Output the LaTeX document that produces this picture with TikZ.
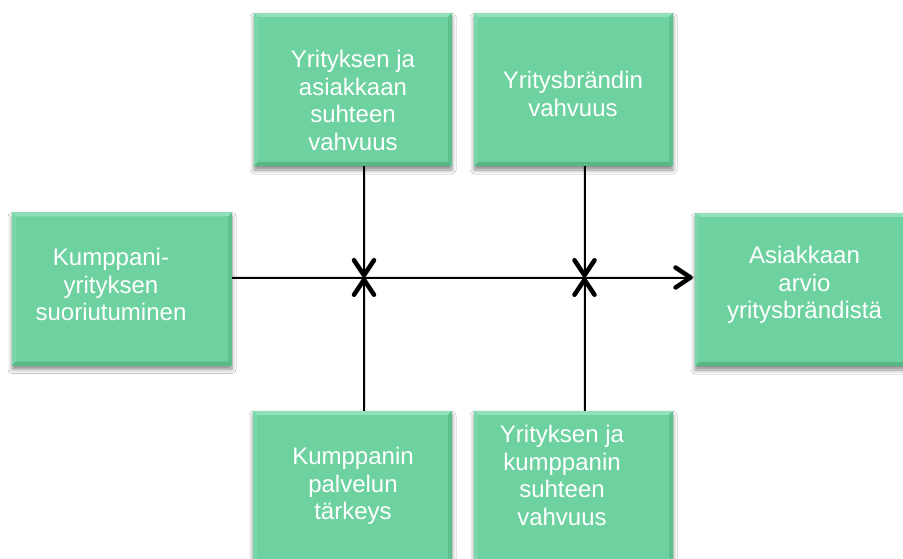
\documentclass[tikz,border=0pt]{standalone}
\usepackage{fontspec}
\setmainfont{Liberation Sans}
\usetikzlibrary{arrows.meta,shadows.blur,calc}

\definecolor{boxgreen}{HTML}{6DD2A0}
\definecolor{bevtop}{HTML}{92E0B9}
\definecolor{bevleft}{HTML}{7BD7A9}
\definecolor{bevright}{HTML}{5EC08F}
\definecolor{bevbottom}{HTML}{58B787}

\tikzset{
  greenbox/.style={rectangle, draw=none, fill=boxgreen, inner sep=0pt,
    minimum width=#1, minimum height=153pt,
    blur shadow={shadow xshift=0pt, shadow yshift=-4pt,
                 shadow blur radius=4pt, shadow opacity=45}},
  boxtext/.style={inner sep=0pt, anchor=north, align=center, text=white,
    font=\fontsize{24}{27.7}\selectfont},
  conn/.style={draw=black, line width=2pt},
  connshadow/.style={draw=black, line width=3pt, opacity=0.12, yshift=-2pt},
  barb/.tip={Straight Barb[length=15pt, width=20pt, line width=4.5pt 0, round]},
}

\begin{document}
\begin{tikzpicture}[x=1pt, y=-1pt]
  \path[use as bounding box, clip] (0,0) rectangle (903,559);
  \fill[white] (0,0) rectangle (903,559);

  % boxes
  \node[greenbox=198pt] (t1) at (353,89.5) {};
  \node[greenbox=199pt] (t2) at (573.5,89.5) {};
  \node[greenbox=220pt] (l)  at (122,289) {};
  \node[greenbox=220pt] (r)  at (805,289.5) {};
  \node[greenbox=199pt] (b1) at (352.5,487.5) {};
  \node[greenbox=199pt] (b2) at (573.5,487.5) {};

  % bevelled edges
  \foreach \n in {t1,t2,l,r,b1,b2} {
    \fill[bevtop] (\n.north west) -- (\n.north east)
      -- ([shift={(-4,4)}]\n.north east) -- ([shift={(4,4)}]\n.north west) -- cycle;
    \fill[bevleft] (\n.north west) -- ([shift={(4,4)}]\n.north west)
      -- ([shift={(4,-4)}]\n.south west) -- (\n.south west) -- cycle;
    \fill[bevright] (\n.north east) -- ([shift={(-4,4)}]\n.north east)
      -- ([shift={(-4,-4)}]\n.south east) -- (\n.south east) -- cycle;
    \fill[bevbottom] (\n.south west) -- ([shift={(4,-4)}]\n.south west)
      -- ([shift={(-4,-4)}]\n.south east) -- (\n.south east) -- cycle;
  }

  % labels
  \node[boxtext] (t1txt) at (353,49.8) {Yrityksen ja\\asiakkaan\\suhteen\\vahvuus};
  \node[boxtext] (t2txt) at (573,70.8) {Yritysbrändin\\vahvuus};
  \node[boxtext] (ltxt)  at (111,247.8) {Kumppani-\\yrityksen\\suoriutuminen};
  \node[boxtext] (rtxt)  at (804.5,246) {Asiakkaan\\arvio\\yritysbrändistä};
  \node[boxtext] (b1txt) at (353,446.8) {Kumppanin\\palvelun\\tärkeys};
  \node[boxtext] (b2txt) at (562,424.8) {Yrityksen ja\\kumppanin\\suhteen\\vahvuus};

  % junctions on the main line
  \coordinate (j1) at (364,277.5);
  \coordinate (j2) at (584.5,277.5);

  % connector shadows
  \path[connshadow] (l.east |- j1) -- (r.west |- j1);
  \path[connshadow] (t1.south -| j1) -- (j1) (b1.north -| j1) -- (j1);
  \path[connshadow] (t2.south -| j2) -- (j2) (b2.north -| j2) -- (j2);

  % connectors
  \draw[conn, -{barb}] (l.east |- j1) -- ([xshift=-2pt]r.west |- j1);
  \draw[conn, -{barb}] (t1.south -| j1) -- (j1);
  \draw[conn, -{barb}] (b1.north -| j1) -- (j1);
  \draw[conn, -{barb}] (t2.south -| j2) -- (j2);
  \draw[conn, -{barb}] (b2.north -| j2) -- (j2);
\end{tikzpicture}
\end{document}
